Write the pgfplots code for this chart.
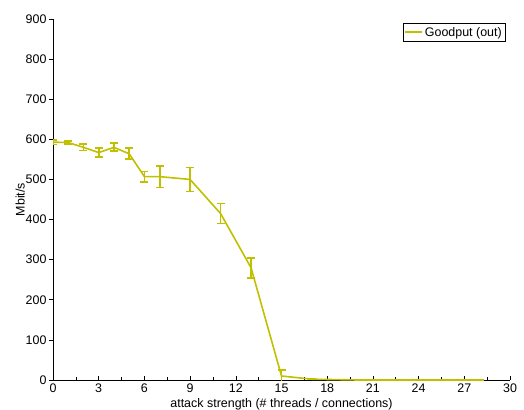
\documentclass[border=0pt]{standalone}
\usepackage{pgfplots}
\pgfplotsset{compat=1.18}
\usepackage{fontspec}
\setmainfont{Liberation Sans}
\definecolor{goodput}{RGB}{192,192,0}
\begin{document}
\begin{tikzpicture}
\begin{axis}[
  scale only axis,
  width=457bp, height=361bp,
  xmin=0, xmax=30, ymin=0, ymax=900,
  axis x line=bottom, axis y line=left,
  axis line style={-, line width=0.8pt},
  xtick={0,3,...,30}, ytick={0,100,...,900},
  minor x tick num=1,
  xtick align=inside, ytick align=outside,
  tick style={black, line width=0.6pt},
  major tick length=4bp, minor tick length=3bp,
  /pgf/number format/assume math mode=true,
  ticklabel style={font=\fontsize{12.5}{14}\selectfont},
  xticklabel style={yshift=0bp},
  yticklabel style={xshift=1bp},
  label style={font=\fontsize{12.5}{14}\selectfont},
  xlabel={attack strength (\# threads / connections)},
  ylabel={Mbit/s},
  xlabel style={yshift=1bp},
  ylabel style={yshift=-6bp},
  legend style={at={(0.99,0.988)}, anchor=north east, draw=black,
    font=\fontsize{12.5}{14}\selectfont, inner sep=1.5pt, row sep=0pt},
  legend cell align=left,
  clip=true,
]
\addplot[color=goodput, line width=1.6pt, mark=none,
  error bars/.cd, y dir=both, y explicit,
  error bar style={line width=1.8pt, color=goodput},
  error mark options={rotate=90, mark size=4bp, line width=1.8pt, color=goodput}]
  table[x=x, y=y, y error=e] {
  x   y    e
  0   593  6
  1   592  4
  2   580  8
  3   567  12
  4   580  10
  5   564  14
  6   507  13
  7   507  27
  9   500  30
  11  415  25
  13  280  25
  15  10   15
  17  2    0
  20  0    0
  24  0    0
  28  0    0
  };
\addlegendentry{Goodput (out)}
\end{axis}
\pgfresetboundingbox
\path (-53bp,-30bp) rectangle (471bp,380bp);
\end{tikzpicture}
\end{document}
